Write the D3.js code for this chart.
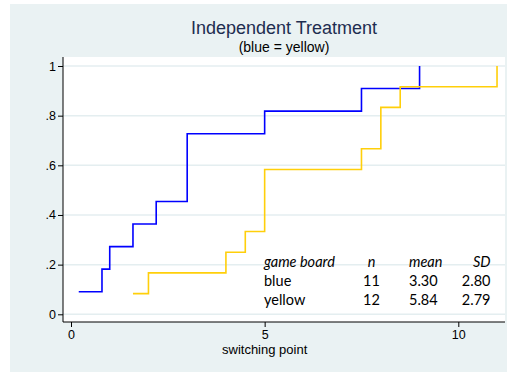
<!DOCTYPE html>
<html>
<head>
<meta charset="utf-8">
<script src="https://cdn.jsdelivr.net/npm/d3@7"></script>
<style>
  body { margin: 0; background: #fff; }
  svg { display: block; }
</style>
</head>
<body>
<svg id="chart" width="507" height="372"></svg>
<script>
// switching points
const blueValues = [0.2, 0.8, 1.0, 1.6, 2.2, 3.0, 3.0, 3.0, 5.0, 7.5, 9.0]
const yellowValues = [1.6, 2.0, 4.0, 4.5, 5.0, 5.0, 5.0, 7.5, 8.0, 8.0, 8.5, 11.0]

const xTicks = [0, 5, 10]
const yTicks = [0, 0.2, 0.4, 0.6, 0.8, 1]

const tableHeader = ['game board', 'n', 'mean', 'SD']
const tableBoards = ['blue', 'yellow']
const tableN = ['11', '12']
const tableMeans = ['3.30', '5.84']
const tableSDs = ['2.80', '2.79']

const series = [
  { key: 'blue', values: blueValues, color: '#0000ff' },
  { key: 'yellow', values: yellowValues, color: '#ffcf0a' }
]

const svg = d3.select('#chart')
const bg = '#eaf2f3'
const plot = { left: 63, top: 57, right: 505, bottom: 322 }

svg.append('rect')
  .attr('x', 10).attr('y', 4)
  .attr('width', 497).attr('height', 368)
  .attr('fill', bg)

svg.append('rect')
  .attr('x', plot.left).attr('y', plot.top)
  .attr('width', plot.right - plot.left).attr('height', plot.bottom - plot.top)
  .attr('fill', '#fff')

const x = d3.scaleLinear().domain([0, 10]).range([71, 458.3])
const y = d3.scaleLinear().domain([0, 1]).range([314.3, 66])

// horizontal grid
svg.append('g')
  .selectAll('line')
  .data(yTicks)
  .join('line')
  .attr('x1', plot.left).attr('x2', plot.right)
  .attr('y1', d => y(d)).attr('y2', d => y(d))
  .attr('stroke', '#e4eef0')
  .attr('stroke-width', 1.5)

// ecdf step lines
const ecdf = vals => vals.map((v, i) => ({ x: v, y: (i + 1) / vals.length }))
const line = d3.line()
  .curve(d3.curveStepAfter)
  .x(d => x(d.x))
  .y(d => y(d.y))

svg.append('g')
  .selectAll('path')
  .data(series)
  .join('path')
  .attr('d', d => line(ecdf(d.values)))
  .attr('fill', 'none')
  .attr('stroke', d => d.color)
  .attr('stroke-width', 1.6)

// axes
const yFmt = d => (d === 0 || d === 1) ? String(d) : d3.format('.1f')(d).replace(/^0/, '')

const yAxis = svg.append('g')
  .attr('transform', `translate(${plot.left},0)`)
  .call(d3.axisLeft(y).tickValues(yTicks).tickFormat(yFmt).tickSize(5).tickSizeOuter(0))
yAxis.select('.domain').remove()

const xAxis = svg.append('g')
  .attr('transform', `translate(0,${plot.bottom})`)
  .call(d3.axisBottom(x).tickValues(xTicks).tickFormat(d3.format('d')).tickSize(5).tickSizeOuter(0))
xAxis.select('.domain').remove()

svg.selectAll('.tick line').attr('stroke', '#000')
svg.selectAll('.tick text')
  .attr('fill', '#000')
  .style('font-family', 'Liberation Sans, Arial, sans-serif')
  .style('font-size', '12.5px')
yAxis.selectAll('.tick text').attr('x', -7)
xAxis.selectAll('.tick text').attr('y', 8)

svg.append('line')
  .attr('x1', plot.left).attr('x2', plot.left)
  .attr('y1', plot.top).attr('y2', plot.bottom)
  .attr('stroke', '#000')
svg.append('line')
  .attr('x1', plot.left).attr('x2', plot.right)
  .attr('y1', plot.bottom).attr('y2', plot.bottom)
  .attr('stroke', '#000')

// titles
const midX = (plot.left + plot.right) / 2
svg.append('text')
  .attr('x', midX).attr('y', 34)
  .attr('text-anchor', 'middle')
  .attr('fill', '#1e2d50')
  .style('font-family', 'Liberation Sans, Arial, sans-serif')
  .style('font-size', '18px')
  .text('Independent Treatment')
svg.append('text')
  .attr('x', midX).attr('y', 52)
  .attr('text-anchor', 'middle')
  .attr('fill', '#000')
  .style('font-family', 'Liberation Sans, Arial, sans-serif')
  .style('font-size', '14px')
  .text('(blue = yellow)')
svg.append('text')
  .attr('x', x(5)).attr('y', 354)
  .attr('text-anchor', 'middle')
  .attr('fill', '#000')
  .style('font-family', 'Liberation Sans, Arial, sans-serif')
  .style('font-size', '13px')
  .text('switching point')

// summary table
const table = svg.append('g')
  .style('font-family', 'Lato, sans-serif')
  .style('font-size', '14.5px')
  .attr('fill', '#000')
const colX = [264, 371.5, 409, 490.5]
const colAnchor = ['start', 'middle', 'start', 'end']
const rowY = [266.5, 285.5, 305]

table.selectAll('text.head')
  .data(tableHeader)
  .join('text')
  .attr('class', 'head')
  .attr('x', (d, i) => colX[i]).attr('y', rowY[0])
  .attr('text-anchor', (d, i) => colAnchor[i])
  .style('font-style', 'italic')
  .text(d => d)

tableBoards.forEach((b, r) => {
  const cells = [b, tableN[r], tableMeans[r], tableSDs[r]]
  table.selectAll(`text.row${r}`)
    .data(cells)
    .join('text')
    .attr('class', `row${r}`)
    .attr('x', (d, i) => colX[i]).attr('y', rowY[r + 1])
    .attr('text-anchor', (d, i) => colAnchor[i])
    .text(d => d)
})
</script>
</body>
</html>
